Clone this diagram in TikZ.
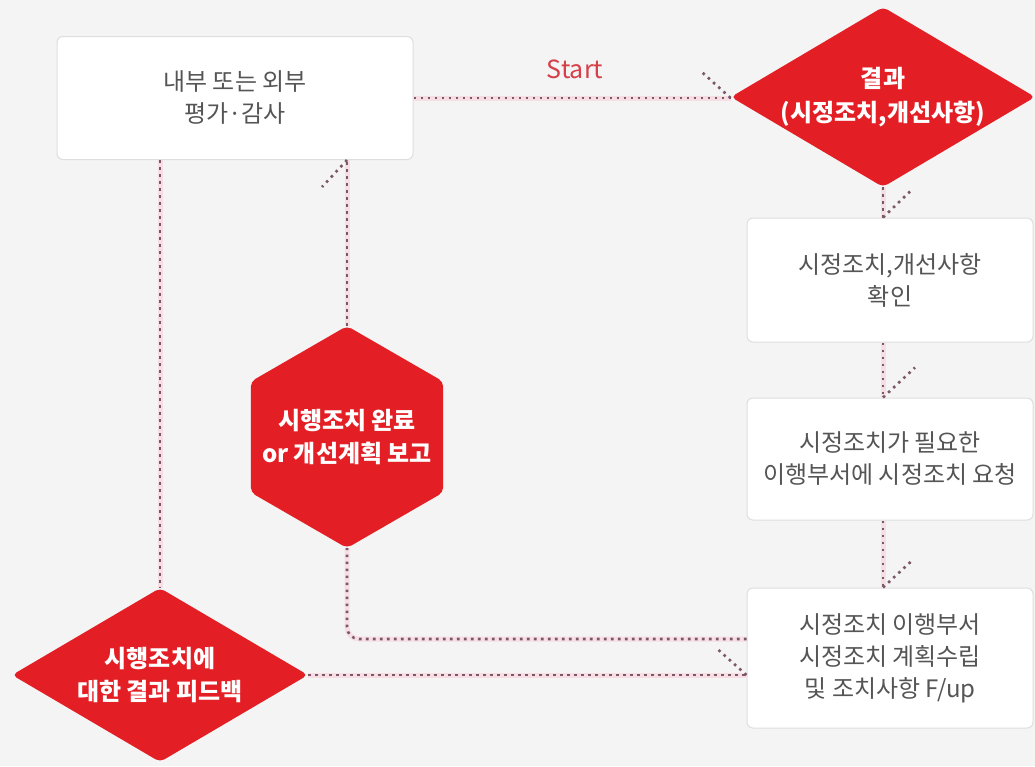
\documentclass[tikz,border=0pt]{standalone}
\usepackage{fontspec}
\setmainfont{Noto Sans CJK KR}
\usetikzlibrary{shapes.geometric,calc}
\definecolor{bg}{RGB}{244,244,244}
\definecolor{redf}{RGB}{227,30,36}
\definecolor{txt}{RGB}{85,85,85}
\definecolor{boxline}{RGB}{222,222,222}
\definecolor{dotc}{RGB}{122,88,104}
\definecolor{halo}{RGB}{247,222,228}
\definecolor{startc}{RGB}{214,62,72}
\tikzset{
  whitebox/.style={draw=boxline, line width=1pt, fill=white, rounded corners=6pt,
    align=center, text=txt, font=\fontsize{24}{32}\selectfont, inner sep=0pt},
  redshape/.style={fill=redf, rounded corners=5pt, align=center, text=white,
    font=\bfseries\fontsize{24}{33.5}\selectfont, inner sep=0pt},
  redtext/.style={align=center, text=white, font=\bfseries\fontsize{24}{33.5}\selectfont, inner sep=0pt},
  dotline/.style={draw=dotc, line width=2.6pt, dash pattern=on 2.6pt off 4.4pt,
    preaction={draw=halo, line width=5pt, solid}},
  barb/.style={draw=dotc, line width=2.6pt, dash pattern=on 2.6pt off 4.4pt}
}
\begin{document}
\begin{tikzpicture}[x=1pt,y=-1pt]
\fill[bg] (0,0) rectangle (1035,766);
\useasboundingbox (0,0) rectangle (1035,766);

% nodes
\node[whitebox, minimum width=356pt, minimum height=123pt] (audit) at (235,98) {내부 또는 외부\\평가·감사};
\node[redshape, diamond, aspect=1.69, minimum width=296pt, minimum height=176pt] (res) at (883,97) {결과\\(시정조치,개선사항)};
\node[whitebox, minimum width=286pt, minimum height=124pt] (check) at (890,280) {시정조치,개선사항\\확인};
\node[whitebox, minimum width=286pt, minimum height=122pt] (req) at (890,459) {시정조치가 필요한\\이행부서에 시정조치 요청};
\node[whitebox, minimum width=286pt, minimum height=140pt] (plan) at (890,658) {시정조치 이행부서\\시정조치 계획수립\\및 조치사항 F/up};
\node[redshape, regular polygon, regular polygon sides=6, shape border rotate=30, minimum size=222pt] (rep) at (347,437) {};
\node[redtext] (reptext) at (rep.center) {시행조치 완료\\or 개선계획 보고};
\node[redshape, diamond, aspect=1.7, minimum width=296pt, minimum height=174pt] (fb) at (160,675) {시행조치에\\대한 결과 피드백};
\node[text=startc, font=\fontsize{25}{28}\selectfont, anchor=base] (start) at (575,78) {Start};

% connectors
\draw[dotline] (audit.east) -- (audit.east -| res.west) coordinate (t1);
\draw[barb] (t1) -- ++(-30,-27);

\draw[dotline] (res.south) -- (res.south |- check.north) coordinate (t2);
\draw[barb] (t2) -- ++(27,-26);

\draw[dotline] (res.south |- check.south) -- (res.south |- req.north) coordinate (t3);
\draw[barb] (t3) -- ++(32,-30);

\draw[dotline] (res.south |- req.south) -- (res.south |- plan.north) coordinate (t4);
\draw[barb] (t4) -- ++(28,-26);

\draw[dotline, rounded corners=12pt] ($(plan.west)+(0,-19)$) -| (rep.south);

\draw[dotline] (rep.north) -- (rep.north |- audit.south) coordinate (t5);
\draw[barb] (t5) -- ++(-25,27);

\draw[dotline] (fb.north |- audit.south) -- (fb.north);

\draw[dotline] (fb.east) -- (fb.east -| plan.west) coordinate (t6);
\draw[barb] (t6) -- ++(-28,-25);
\end{tikzpicture}
\end{document}
